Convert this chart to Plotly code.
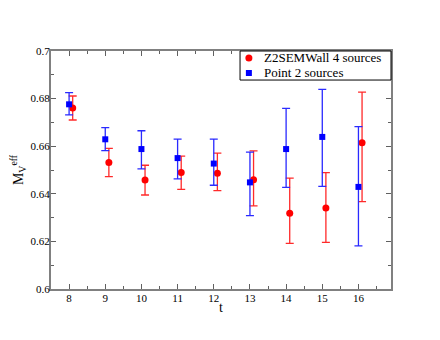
import plotly.graph_objects as go

t = [8, 9, 10, 11, 12, 13, 14, 15, 16]

# Z2SEMWall, 4 sources (drawn slightly right of t)
wall_m = [0.6761, 0.6531, 0.6458, 0.6490, 0.6486, 0.6459, 0.6318, 0.6340, 0.6615]
wall_up = [0.0050, 0.0060, 0.0062, 0.0068, 0.0085, 0.0121, 0.0148, 0.0149, 0.0212]
wall_dn = [0.0051, 0.0059, 0.0063, 0.0071, 0.0073, 0.0110, 0.0126, 0.0144, 0.0248]

# Point, 2 sources
point_m = [0.6776, 0.6629, 0.6588, 0.6550, 0.6527, 0.6448, 0.6588, 0.6639, 0.6429]
point_up = [0.0049, 0.0049, 0.0077, 0.0080, 0.0103, 0.0127, 0.0171, 0.0200, 0.0253]
point_dn = [0.0044, 0.0048, 0.0083, 0.0087, 0.0091, 0.0140, 0.0161, 0.0208, 0.0248]

labels = ["Z2SEMWall 4 sources", "Point 2 sources"]
yticks = [0.6, 0.62, 0.64, 0.66, 0.68, 0.7]
shift = 0.1
font = "Liberation Serif"

fig = go.Figure()
fig.add_trace(go.Scatter(
    x=[v + shift for v in t], y=wall_m,
    mode="markers", name=labels[0],
    marker=dict(symbol="circle", size=7, color="#ff0000"),
    error_y=dict(type="data", symmetric=False, array=wall_up, arrayminus=wall_dn,
                 color="#ff2a2a", thickness=1.3, width=4),
))
fig.add_trace(go.Scatter(
    x=t, y=point_m,
    mode="markers", name=labels[1],
    marker=dict(symbol="square", size=6, color="#0000ff"),
    error_y=dict(type="data", symmetric=False, array=point_up, arrayminus=point_dn,
                 color="#2a2aff", thickness=1.3, width=4),
))

axis_common = dict(
    showgrid=False, zeroline=False, automargin=False,
    showline=True, linecolor="#808080", linewidth=2, mirror="allticks",
    ticks="inside", ticklen=5, tickcolor="#606060", tickwidth=1,
    tickfont=dict(family=font, size=11, color="black"),
)

fig.update_xaxes(
    range=[7.5, 16.9], tickvals=t, ticktext=[str(v) for v in t],
    ticklabelstandoff=-2,
    minor=dict(dtick=0.5, tick0=7.5, ticks="inside", ticklen=3, tickcolor="#606060"),
    **axis_common,
)
fig.update_yaxes(
    range=[0.6, 0.7],
    tickvals=yticks, ticktext=["%g" % v for v in yticks],
    ticklabelstandoff=-3,
    minor=dict(dtick=0.01, ticks="inside", ticklen=3, tickcolor="#606060"),
    title=dict(text="M<sub>V</sub><sup>eff</sup>", font=dict(family=font, size=14, color="black"), standoff=10),
    **axis_common,
)

# x title placed by hand, close under the tick labels
fig.add_annotation(text="t", xref="paper", yref="paper", x=0.5, y=-0.076,
                   xanchor="center", yanchor="middle", showarrow=False,
                   font=dict(family=font, size=14, color="black"))

# legend box drawn by hand (top right, inside the frame)
rows = [0.9706, 0.9076]
fig.add_shape(type="rect", xref="paper", yref="paper",
              x0=0.556, x1=1.0, y0=0.878, y1=1.0,
              line=dict(color="black", width=1), fillcolor="white", layer="above")
fig.add_shape(type="circle", xref="paper", yref="paper", xsizemode="pixel", ysizemode="pixel",
              xanchor=0.582, yanchor=rows[0], x0=-3.5, x1=3.5, y0=-3.5, y1=3.5,
              fillcolor="#ff0000", line=dict(width=0), layer="above")
fig.add_shape(type="rect", xref="paper", yref="paper", xsizemode="pixel", ysizemode="pixel",
              xanchor=0.582, yanchor=rows[1], x0=-3, x1=3, y0=-3, y1=3,
              fillcolor="#0000ff", line=dict(width=0), layer="above")
for lbl, yy in zip(labels, rows):
    fig.add_annotation(text=lbl, xref="paper", yref="paper", x=0.624, y=yy,
                       xanchor="left", yanchor="middle", showarrow=False,
                       borderpad=0,
                       font=dict(family=font, size=13, color="black"))

fig.update_layout(
    width=440, height=340,
    margin=dict(l=43, r=57, t=43, b=59),
    paper_bgcolor="white", plot_bgcolor="white",
    font=dict(family=font, color="black"),
    showlegend=False,
)

fig.write_html("out.html")
